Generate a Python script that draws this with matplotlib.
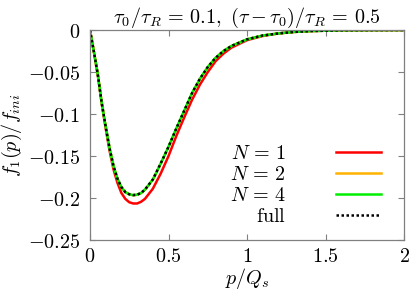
import matplotlib
matplotlib.use("Agg")
import matplotlib.pyplot as plt

plt.rcParams['mathtext.fontset'] = 'cm'
plt.rcParams['font.family'] = ['DejaVu Serif']

p = [0, 0.025, 0.05, 0.075, 0.1, 0.125, 0.15, 0.175, 0.2, 0.225, 0.25, 0.275,
     0.3, 0.325, 0.35, 0.4, 0.45, 0.5, 0.55, 0.6, 0.65, 0.7, 0.75, 0.8, 0.85,
     0.9, 1.0, 1.1, 1.2, 1.3, 1.4, 1.6, 1.8, 2.0]

f_full = [0, -0.026, -0.053, -0.087, -0.115, -0.141, -0.162, -0.177, -0.187,
          -0.193, -0.1955, -0.1965, -0.196, -0.194, -0.190, -0.178, -0.159,
          -0.139, -0.117, -0.096, -0.075, -0.058, -0.044, -0.033, -0.025,
          -0.019, -0.011, -0.0065, -0.004, -0.0022, -0.0012, -0.0003, -0.0001, 0]

f_n1 = [0, -0.026, -0.054, -0.088, -0.117, -0.144, -0.166, -0.182, -0.194,
        -0.201, -0.205, -0.2065, -0.2065, -0.2045, -0.201, -0.189, -0.171,
        -0.150, -0.126, -0.104, -0.083, -0.065, -0.050, -0.037, -0.028,
        -0.021, -0.012, -0.007, -0.004, -0.0022, -0.0012, -0.0003, -0.0001, 0]

f_n2 = [0, -0.026, -0.053, -0.087, -0.115, -0.141, -0.162, -0.177, -0.187,
        -0.193, -0.1957, -0.1967, -0.1962, -0.1942, -0.1902, -0.1782, -0.1592,
        -0.1392, -0.1172, -0.0962, -0.0752, -0.0582, -0.0441, -0.0331, -0.025,
        -0.019, -0.011, -0.0065, -0.004, -0.0022, -0.0012, -0.0003, -0.0001, 0]

f_n4 = list(f_full)

xticks = [0, 0.5, 1, 1.5, 2]
xticklabels = ['$0$', '$0.5$', '$1$', '$1.5$', '$2$']
yticks = [0, -0.05, -0.1, -0.15, -0.2, -0.25]
yticklabels = ['$0$', '$-0.05$', '$-0.1$', '$-0.15$', '$-0.2$', '$-0.25$']

FS = 14.5

fig = plt.figure(figsize=(4.09, 2.92), dpi=100)
ax = fig.add_axes([0.220, 0.178, 0.768, 0.719])

ax.plot(p, f_n1, color='#ff0000', lw=1.8, label=r'$N\,=\,1$')
ax.plot(p, f_n2, color='#ffb300', lw=1.8, label=r'$N\,=\,2$')
ax.plot(p, f_n4, color='#00ee00', lw=1.8, label=r'$N\,=\,4$')
ax.plot(p, f_full, color='black', lw=1.8, ls=(0, (1, 1)), label=r'$\mathrm{full}$')

ax.set_xlim(0, 2)
ax.set_ylim(-0.25, 0)
ax.set_xticks(xticks)
ax.set_xticklabels(xticklabels)
ax.set_yticks(yticks)
ax.set_yticklabels(yticklabels)
ax.tick_params(axis='both', direction='in', top=True, right=True, length=4, width=0.8,
               color='#808080', labelsize=FS)
ax.tick_params(axis='y', pad=7)
ax.tick_params(axis='x', pad=5)
for s in ax.spines.values():
    s.set_color('#808080')
    s.set_linewidth(0.9)

ax.set_xlabel('$p/Q_s$', fontsize=FS, labelpad=0)
ax.set_ylabel('$f_1(p)/f_{ini}$', fontsize=FS, labelpad=3)
ax.set_title(r'$\tau_0/\tau_R\,=\,0.1,\ (\tau-\tau_0)/\tau_R\,=\,0.5$', fontsize=FS, pad=5)

leg = ax.legend(loc='lower right', frameon=False, markerfirst=False, fontsize=FS,
                handlelength=2.2, handletextpad=2.5, labelspacing=0.1,
                borderaxespad=0.3, bbox_to_anchor=(0.97, 0.0))

fig.savefig('out.png', dpi=100)
